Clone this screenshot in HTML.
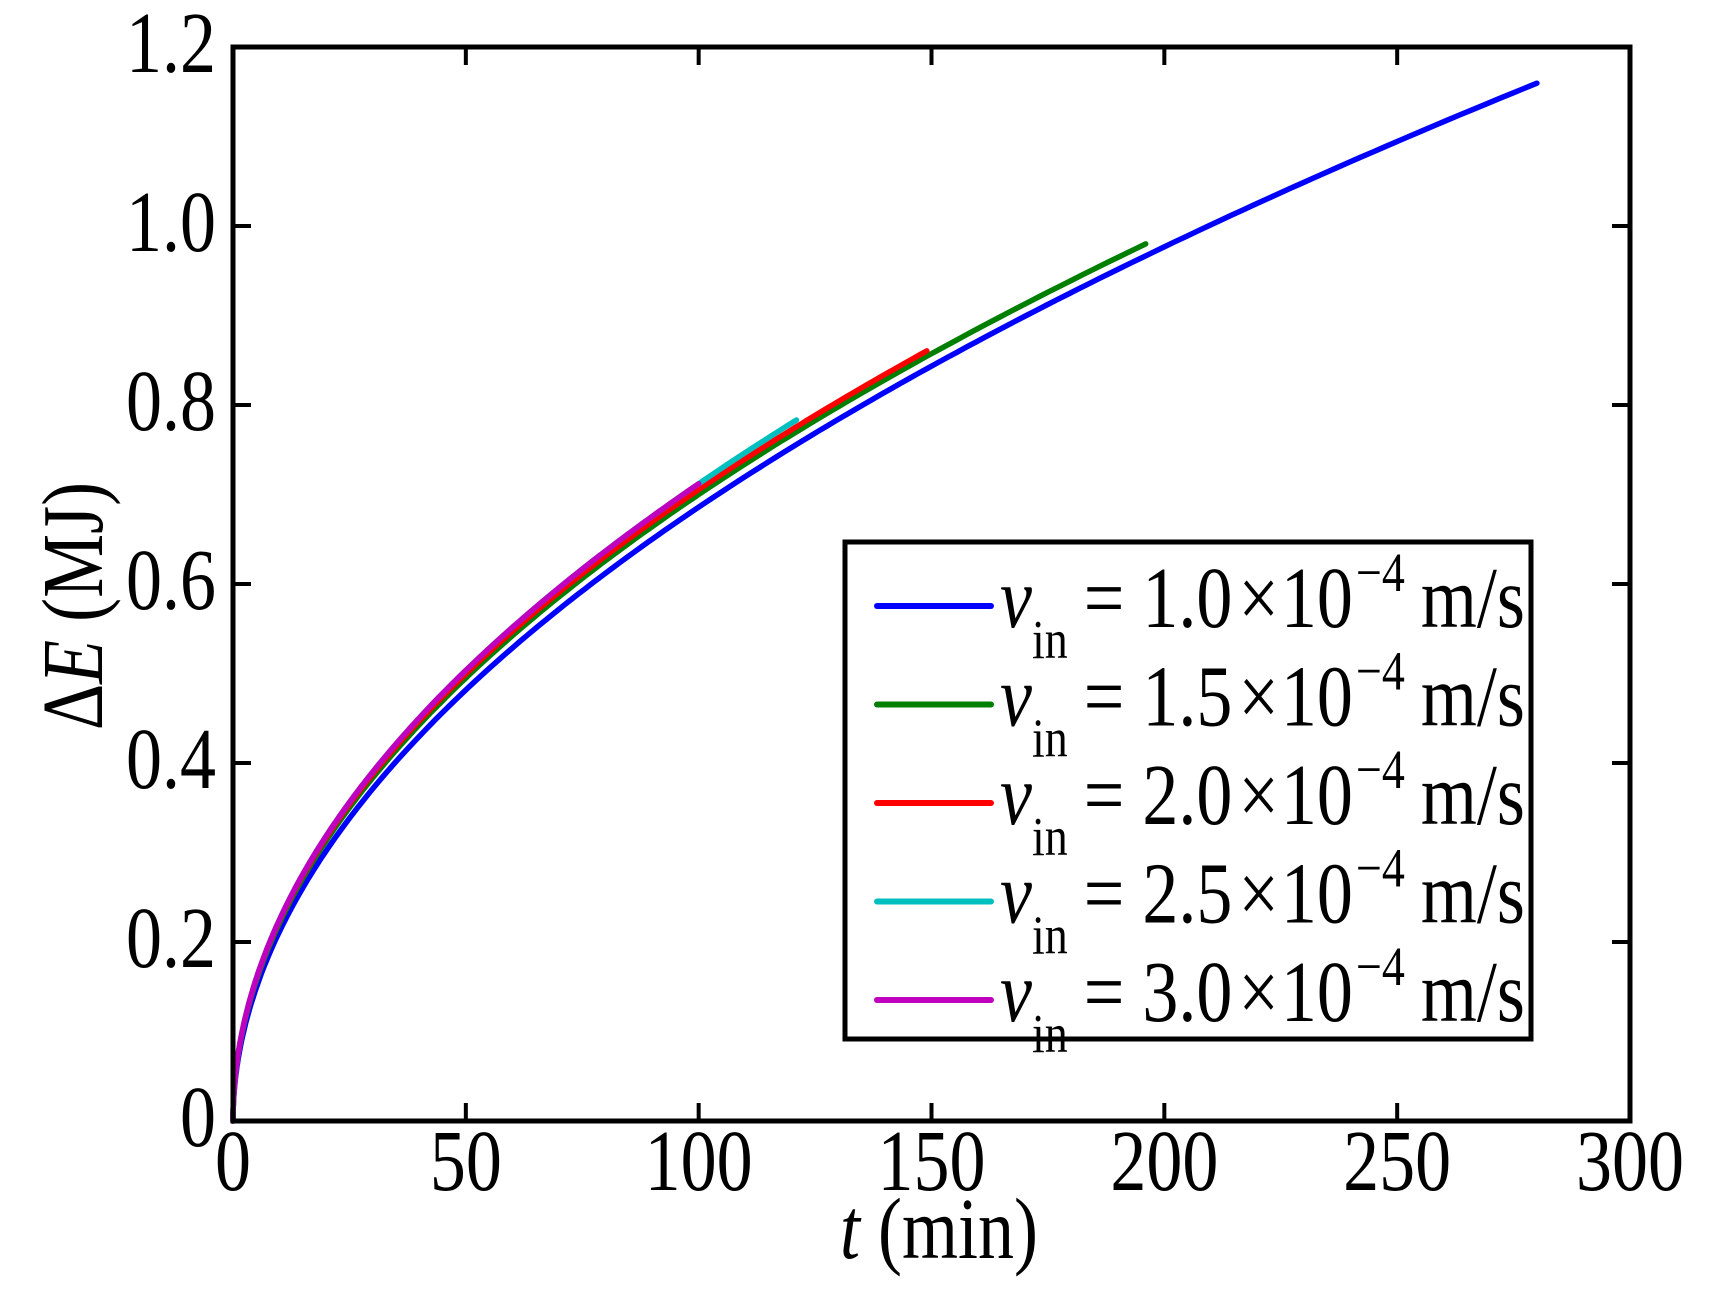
<!DOCTYPE html>
<html><head><meta charset="utf-8"><style>
html,body{margin:0;padding:0;background:#fff;}
svg{display:block;}
text{font-family:"Liberation Serif",serif;fill:#000;}
</style></head><body>
<svg id="s" width="1717" height="1301" viewBox="0 0 1717 1301" xmlns="http://www.w3.org/2000/svg">
<g id="curves" fill="none" stroke-width="5.5" stroke-linejoin="round" stroke-linecap="round"></g>
<rect x="233" y="47" width="1397" height="1074" fill="none" stroke="#000" stroke-width="5"/>
<g id="ticks" stroke="#000" stroke-width="4"></g>
<g id="labels"></g>
<rect x="845" y="542" width="686" height="497" fill="#fff" stroke="#000" stroke-width="5"/>
<g id="leg"></g>
</svg>
<script>
const X=t=>233+t*1397/300, Y=v=>1121-v*1074/1.2;
const series=[
["#0000ff",0.0655,0.51,280],
["#007f00",0.070,0.5,196],
["#ff0000",0.0712,0.498,149],
["#00bfbf",0.0712,0.5,121],
["#bf00bf",0.0712,0.5,100]];
let c=document.getElementById('curves'),h='';
series.forEach(s=>{let pts=[];const N=200;for(let k=0;k<=N;k++){const t=s[3]*Math.pow(k/N,2);pts.push([t,s[1]*Math.pow(t,s[2])]);}
h+=`<polyline stroke="${s[0]}" points="${pts.map(p=>X(p[0]).toFixed(1)+','+Y(p[1]).toFixed(1)).join(' ')}"/>`;});
c.innerHTML=h;
let t='';
for(let i=0;i<=6;i++){let y=Y(i*0.2);t+=`<line x1="233" y1="${y}" x2="251" y2="${y}"/><line x1="1612" y1="${y}" x2="1630" y2="${y}"/>`;}
for(let i=0;i<=6;i++){let x=X(i*50);t+=`<line x1="${x}" y1="1121" x2="${x}" y2="1103"/><line x1="${x}" y1="47" x2="${x}" y2="65"/>`;}
document.getElementById('ticks').innerHTML=t;
const st=(x,y,inner,extra='')=>`<g transform="translate(0,${y}) scale(1,1.2) translate(0,${-y})"><text x="${x}" y="${y}" font-size="72" ${extra}>${inner}</text></g>`;
let L='';
['0','0.2','0.4','0.6','0.8','1.0','1.2'].forEach((s,i)=>{L+=st(216,Y(i*0.2)+25,s,'text-anchor="end"');});
[0,50,100,150,200,250,300].forEach(v=>{L+=st(X(v),1190,v,'text-anchor="middle"');});
L+=st(939,1258,'<tspan font-style="italic">t</tspan> (min)','text-anchor="middle"');
L+=`<g transform="translate(102,606) rotate(-90) scale(1,1.2)"><text x="0" y="0" font-size="72" text-anchor="middle">Δ<tspan font-style="italic">E</tspan> (MJ)</text></g>`;
document.getElementById('labels').innerHTML=L;
const vals=['1.0','1.5','2.0','2.5','3.0'];let l='';
vals.forEach((v,i)=>{let ly=606+i*98.5,by=ly+21;
l+=`<line x1="877" y1="${ly}" x2="991" y2="${ly}" stroke="${series[i][0]}" stroke-width="6" stroke-linecap="round"/>`;
l+=st(1000,by,`<tspan font-style="italic">v</tspan><tspan font-size="46" dy="26">in</tspan><tspan dy="-26" dx="16">= ${v}</tspan><tspan dx="6">×</tspan><tspan dx="2">10</tspan><tspan font-size="46" dy="-30" dx="3">−4</tspan><tspan dy="30" dx="16">m/s</tspan>`);});
document.getElementById('leg').innerHTML=l;
</script>
</body></html>
